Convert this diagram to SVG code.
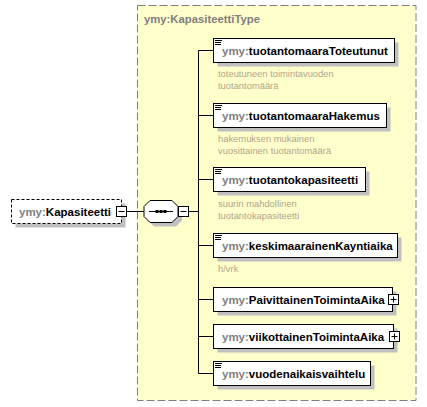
<svg xmlns="http://www.w3.org/2000/svg" width="427" height="407" viewBox="0 0 427 407">
<style>
.el{fill:#fff;stroke:#000;stroke-width:1}
.sh{fill:#c0c0c0;stroke:none}
.lbl{font-family:"Liberation Sans",Arial,sans-serif;font-size:11.5px;font-weight:bold;fill:#000}
.pfx{fill:#808080}
.doc{font-family:"Liberation Sans",Arial,sans-serif;font-size:9.4px;fill:#b4a48a}
.ic{stroke:#000;stroke-width:1}
.btn{fill:#fff;stroke:#000;stroke-width:1}
.cn{stroke:#000;stroke-width:1;fill:none}
</style>
<rect width="427" height="407" fill="#fff"/>
<g id="complexType">
<rect x="137.5" y="5.5" width="278.5" height="395" fill="#ffffcc" stroke="#808080" stroke-width="1" stroke-dasharray="8,3"/>
<text x="144" y="23" class="lbl" style="fill:#808080;font-size:11.3px">ymy:KapasiteettiType</text>
</g>
<g id="connectors">
<line class="cn" x1="126.5" y1="211.5" x2="144" y2="211.5"/>
<line class="cn" x1="188.5" y1="211.5" x2="198.5" y2="211.5"/>
<line class="cn" x1="198.5" y1="50.5" x2="198.5" y2="373.5"/>
<line class="cn" x1="198.5" y1="50.5" x2="213.5" y2="50.5"/>
<line class="cn" x1="198.5" y1="115.5" x2="213.5" y2="115.5"/>
<line class="cn" x1="198.5" y1="179.5" x2="213.5" y2="179.5"/>
<line class="cn" x1="198.5" y1="245.5" x2="213.5" y2="245.5"/>
<line class="cn" x1="198.5" y1="299.5" x2="213.5" y2="299.5"/>
<line class="cn" x1="198.5" y1="336.5" x2="213.5" y2="336.5"/>
<line class="cn" x1="198.5" y1="373.5" x2="213.5" y2="373.5"/>
</g>
<g id="Kapasiteetti">
<rect class="sh" x="15.5" y="203.5" width="110" height="24"/>
<rect x="11.5" y="199.5" width="110" height="24" fill="#fff" stroke="#000" stroke-dasharray="3,2"/>
<text x="19" y="215.5" class="lbl"><tspan class="pfx">ymy:</tspan>Kapasiteetti</text>
<rect class="btn" x="116.5" y="206.5" width="10" height="10"/>
<line class="ic" x1="118.5" y1="211.5" x2="124.5" y2="211.5"/>
</g>
<g id="sequence">
<polygon class="sh" points="154,204.5 176,204.5 182,210.5 182,220.5 176,226.5 154,226.5 148,220.5 148,210.5"/>
<polygon points="150,200.5 172,200.5 178,206.5 178,216.5 172,222.5 150,222.5 144,216.5 144,206.5" fill="#fff" stroke="#000"/>
<line class="ic" x1="149" y1="211.5" x2="173" y2="211.5"/>
<rect x="155.5" y="210" width="3" height="3" fill="#000"/>
<rect x="159.5" y="210" width="3" height="3" fill="#000"/>
<rect x="163.5" y="210" width="3" height="3" fill="#000"/>
<rect class="btn" x="178.5" y="206.5" width="10" height="10"/>
<line class="ic" x1="180.5" y1="211.5" x2="186.5" y2="211.5"/>
</g>
<g id="tuotantomaaraToteutunut">
<rect class="sh" x="217.5" y="42.5" width="181" height="24"/>
<rect class="el" x="213.5" y="38.5" width="181" height="24"/>
<path class="ic" d="M215 40.5h7M215 42.5h6M215 44.5h6"/>
<text x="222" y="54.5" class="lbl"><tspan class="pfx">ymy:</tspan>tuotantomaaraToteutunut</text>
<text x="218" y="77" class="doc">toteutuneen toimintavuoden</text>
<text x="218" y="89" class="doc">tuotantomäärä</text>
</g>
<g id="tuotantomaaraHakemus">
<rect class="sh" x="217.5" y="107.5" width="173" height="24"/>
<rect class="el" x="213.5" y="103.5" width="173" height="24"/>
<path class="ic" d="M215 105.5h7M215 107.5h6M215 109.5h6"/>
<text x="222" y="119.5" class="lbl"><tspan class="pfx">ymy:</tspan>tuotantomaaraHakemus</text>
<text x="218" y="142" class="doc">hakemuksen mukainen</text>
<text x="218" y="154" class="doc">vuosittainen tuotantomäärä</text>
</g>
<g id="tuotantokapasiteetti">
<rect class="sh" x="217.5" y="171.5" width="152" height="24"/>
<rect class="el" x="213.5" y="167.5" width="152" height="24"/>
<path class="ic" d="M215 169.5h7M215 171.5h6M215 173.5h6"/>
<text x="222" y="183.5" class="lbl"><tspan class="pfx">ymy:</tspan>tuotantokapasiteetti</text>
<text x="218" y="207" class="doc">suurin mahdollinen</text>
<text x="218" y="219" class="doc">tuotantokapasiteetti</text>
</g>
<g id="keskimaarainenKayntiaika">
<rect class="sh" x="217.5" y="237.5" width="184" height="24"/>
<rect class="el" x="213.5" y="233.5" width="184" height="24"/>
<path class="ic" d="M215 235.5h7M215 237.5h6M215 239.5h6"/>
<text x="222" y="249.5" class="lbl"><tspan class="pfx">ymy:</tspan>keskimaarainenKayntiaika</text>
<text x="218" y="272" class="doc">h/vrk</text>
</g>
<g id="PaivittainenToimintaAika">
<rect class="sh" x="217.5" y="291.5" width="179" height="24"/>
<rect class="el" x="213.5" y="287.5" width="179" height="24"/>
<text x="222" y="303.5" class="lbl"><tspan class="pfx">ymy:</tspan>PaivittainenToimintaAika</text>
<rect class="btn" x="388.5" y="294.5" width="10" height="10"/>
<path class="ic" d="M390.5 299.5h6M393.5 296.5v6"/>
</g>
<g id="viikottainenToimintaAika">
<rect class="sh" x="217.5" y="328.5" width="180" height="24"/>
<rect class="el" x="213.5" y="324.5" width="180" height="24"/>
<text x="222" y="340.5" class="lbl"><tspan class="pfx">ymy:</tspan>viikottainenToimintaAika</text>
<rect class="btn" x="389.5" y="331.5" width="10" height="10"/>
<path class="ic" d="M391.5 336.5h6M394.5 333.5v6"/>
</g>
<g id="vuodenaikaisvaihtelu">
<rect class="sh" x="217.5" y="365.5" width="157" height="24"/>
<rect class="el" x="213.5" y="361.5" width="157" height="24"/>
<path class="ic" d="M215 363.5h7M215 365.5h6M215 367.5h6"/>
<text x="222" y="377.5" class="lbl"><tspan class="pfx">ymy:</tspan>vuodenaikaisvaihtelu</text>
</g>
</svg>
